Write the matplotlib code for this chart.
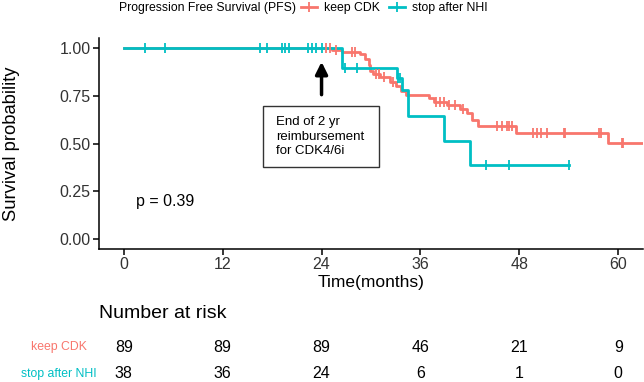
import numpy as np
import matplotlib
matplotlib.use("Agg")
import matplotlib.pyplot as plt
from matplotlib.lines import Line2D
from matplotlib.patches import Rectangle

plt.rcParams['font.family'] = ['Liberation Sans', 'DejaVu Sans']

# Kaplan-Meier steps
keep_t = [0, 25.3, 26.5, 28.7, 29.3, 29.7, 29.9, 30.3, 31.1, 32.3, 33.0, 33.6, 34.2,
          37.0, 37.6, 39.2, 40.8, 41.6, 42.3, 43.0, 47.6, 58.8]
keep_s = [1.0, 0.989, 0.978, 0.966, 0.94, 0.91, 0.88, 0.86, 0.845, 0.82, 0.80, 0.775, 0.752,
          0.735, 0.715, 0.70, 0.68, 0.66, 0.625, 0.59, 0.557, 0.505]
keep_end = 63.0
keep_cens = [24.5, 25.0, 25.8, 27.7, 28.1, 30.6, 31.0, 31.6, 32.7, 37.9, 38.4, 38.9, 39.5,
             40.2, 41.2, 45.3, 45.9, 46.5, 46.8, 47.1, 49.6, 50.1, 50.6, 51.3, 53.4, 53.5,
             57.7, 57.9, 60.4, 60.6]

stop_t = [0, 26.5, 33.1, 33.8, 34.5, 38.8, 42.0]
stop_s = [1.0, 0.895, 0.84, 0.78, 0.645, 0.515, 0.387]
stop_end = 54.0
stop_cens = [2.6, 5.0, 16.5, 17.4, 19.2, 19.6, 20.0, 22.4, 22.9, 23.3, 24.1, 26.9, 28.3,
             33.3, 33.5, 43.9, 46.7, 54.0]

groups = ["keep CDK", "stop after NHI"]
colors = ["#F8766D", "#00BFC4"]
risk_times = [0, 12, 24, 36, 48, 60]
risk_keep = [89, 89, 89, 46, 21, 9]
risk_stop = [38, 36, 24, 6, 1, 0]

W, H = 644, 382
fig = plt.figure(figsize=(W / 100, H / 100), dpi=100)
ax = fig.add_axes([99 / W, 1 - 249 / H, 544 / W, 211 / H])


def surv_at(t, times, surv):
    i = np.searchsorted(times, t, side='right') - 1
    return np.array(surv)[i]


for times, surv, end, cens, col in [(keep_t, keep_s, keep_end, keep_cens, colors[0]),
                                    (stop_t, stop_s, stop_end, stop_cens, colors[1])]:
    xs = list(times) + [end]
    ys = list(surv) + [surv[-1]]
    ax.step(xs, ys, where='post', color=col, lw=2.0, zorder=3)
    ax.plot(cens, surv_at(np.array(cens), times, surv), ls='none', marker='|',
            ms=7, mew=1.3, color=col, zorder=4)

ax.set_xlim(-3, 63)
ax.set_ylim(-0.05, 1.05)
ax.set_xticks(risk_times)
ax.set_yticks([0, 0.25, 0.5, 0.75, 1.0])
ax.set_yticklabels(["0.00", "0.25", "0.50", "0.75", "1.00"])
for s in ['top', 'right']:
    ax.spines[s].set_visible(False)
for s in ['left', 'bottom']:
    ax.spines[s].set_linewidth(1.1)
ax.tick_params(labelsize=11.5, length=4, width=1.1, pad=2, labelcolor='#333333')

# annotation
ax.annotate('', xy=(24, 0.94), xytext=(24, 0.74),
            arrowprops=dict(arrowstyle='-|>', lw=2.5, color='black', mutation_scale=18))
ax.add_patch(Rectangle((16.95, 0.38), 14.05, 0.313, fill=False, ec='#333333', lw=1.0, zorder=5))
ax.text(18.5, 0.536, "End of 2 yr\nreimbursement\nfor CDK4/6i", fontsize=9.5,
        ha='left', va='center', linespacing=1.25)

ax.text(1.5, 0.2, "p = 0.39", fontsize=11.5, ha='left', va='center')

fig.text(12 / W, 1 - 143.5 / H, "Survival probability", rotation=90,
         ha='center', va='center', fontsize=13.2)
fig.text(371 / W, 1 - 283 / H, "Time(months)", ha='center', va='center', fontsize=12.5)

# legend on top
fig.text(119 / W, 1 - 8 / H, "Progression Free Survival (PFS)", fontsize=8.8,
         ha='left', va='center')
handles = [Line2D([], [], color=c, lw=2, marker='|', ms=7, mew=1.3) for c in colors]
fig.legend(handles, groups, loc='center left', bbox_to_anchor=(301 / W, 1 - 8 / H),
           ncol=2, frameon=False, fontsize=8.8, handlelength=1.3, handletextpad=0.6,
           columnspacing=0.7, borderpad=0, borderaxespad=0)

# risk table
fig.text(99 / W, 1 - 313 / H, "Number at risk", fontsize=14, ha='left', va='center')
rax = fig.add_axes([99 / W, 0, 544 / W, 1])
rax.set_xlim(-3, 63)
rax.set_ylim(H, 0)
rax.axis('off')
for row_y, vals, name, col in [(347, risk_keep, groups[0], colors[0]),
                               (374, risk_stop, groups[1], colors[1])]:
    for t, v in zip(risk_times, vals):
        rax.text(t, row_y, str(v), fontsize=11.5, ha='center', va='center')
    fig.text(59 / W, 1 - row_y / H, name, fontsize=8.8, color=col, ha='center', va='center')

fig.savefig("out.png", dpi=100)
